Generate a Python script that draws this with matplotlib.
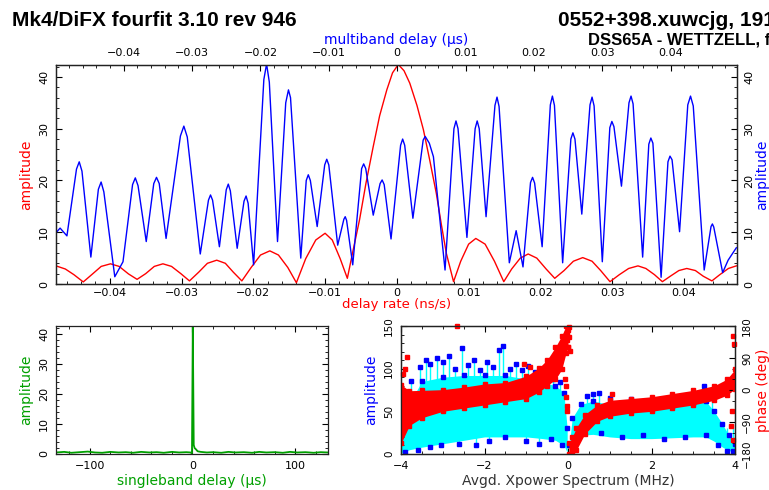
import numpy as np
import matplotlib.pyplot as plt
from matplotlib.ticker import MultipleLocator, FuncFormatter

# delay rate function (red, bottom axis)
rate = [-0.0475, -0.0462, -0.0450, -0.0437, -0.0424, -0.0412, -0.0399, -0.0387, -0.0374,
        -0.0362, -0.0350, -0.0338, -0.0326, -0.0314, -0.0301, -0.0289, -0.0276, -0.0264,
        -0.0251, -0.0239, -0.0228, -0.0216, -0.0203, -0.0190, -0.0177, -0.0165, -0.0152,
        -0.0140, -0.0127, -0.0113, -0.0100, -0.0090, -0.0079, -0.0069, -0.0061, -0.0052,
        -0.0043, -0.0033, -0.0024, -0.0014, -0.0006, 0.0002, 0.0010, 0.0018, 0.0028,
        0.0037, 0.0046, 0.0055, 0.0062, 0.0069, 0.0079, 0.0089, 0.0100, 0.0110, 0.0123,
        0.0136, 0.0149, 0.0160, 0.0172, 0.0183, 0.0195, 0.0208, 0.0220, 0.0233, 0.0246,
        0.0259, 0.0272, 0.0284, 0.0297, 0.0310, 0.0323, 0.0336, 0.0347, 0.0359, 0.0370,
        0.0381, 0.0393, 0.0404, 0.0416, 0.0427, 0.0439, 0.0450, 0.0462, 0.0473]
rate_amp = [3.5, 2.9, 1.8, 0.4, 1.95, 3.4, 3.9, 3.4, 1.95,
            0.9, 2.0, 3.4, 3.9, 3.4, 2.0, 0.6, 2.3, 4.0,
            4.6, 4.0, 2.3, 0.6, 3.2, 5.6, 6.4, 5.6, 3.2,
            0.25, 4.9, 8.5, 9.8, 8.5, 4.9, 1.1, 6.5, 12.4,
            19.5, 26.5, 32.5, 37.5, 40.8, 42.4, 41.2, 38.8, 34.5,
            29.8, 23.8, 17.5, 11.5, 5.9, 0.45, 4.4, 7.7, 8.8, 7.7,
            4.4, 0.45, 2.9, 5.0, 5.8, 5.0, 2.9, 1.1, 2.6, 4.4,
            5.1, 4.4, 2.6, 0.45, 1.8, 3.0, 3.5, 3.0, 1.8, 0.45,
            1.5, 2.6, 3.0, 2.6, 1.5, 0.6, 1.8, 3.0, 3.5]

# multiband delay function (blue, top axis)
mbd = [-0.0499, -0.0493, -0.0483, -0.0469, -0.0465, -0.0461, -0.0448,
       -0.0437, -0.0433, -0.0429, -0.0413, -0.0401, -0.0387, -0.0383, -0.0379,
       -0.0367, -0.0356, -0.0352, -0.0348, -0.0338, -0.0317, -0.0312, -0.0307,
       -0.0288, -0.0276, -0.0273, -0.0270, -0.0260, -0.0250, -0.0247, -0.0244,
       -0.0234, -0.0224, -0.0221, -0.0218, -0.0210, -0.0195, -0.0191, -0.0187,
       -0.0175, -0.0163, -0.0159, -0.0156, -0.0141, -0.0133, -0.0130, -0.0127,
       -0.0117, -0.0106, -0.0103, -0.0100, -0.0087, -0.0078, -0.0076, -0.0074,
       -0.0065, -0.0052, -0.0049, -0.0046, -0.0035, -0.0025, -0.0022, -0.0019,
       -0.0009, 0.0005, 0.0008, 0.0011, 0.0023, 0.0038, 0.0041, 0.0047, 0.0053,
       0.0070, 0.0083, 0.0086, 0.0089, 0.0102, 0.0114, 0.0117, 0.0120, 0.0130,
       0.0143, 0.0146, 0.0149, 0.0164, 0.0174, 0.0184, 0.0195, 0.0198, 0.0201,
       0.0212, 0.0224, 0.0227, 0.0230, 0.0242, 0.0254, 0.0257, 0.0260, 0.0270,
       0.0282, 0.0285, 0.0288, 0.0300, 0.0311, 0.0314, 0.0317, 0.0328, 0.0339,
       0.0342, 0.0345, 0.0359, 0.0368, 0.0371, 0.0374, 0.0386, 0.0396, 0.0399,
       0.0402, 0.0413, 0.0425, 0.0429, 0.0433, 0.0449, 0.0459, 0.0461, 0.0463,
       0.0476, 0.0484, 0.0496]
mbd_amp = [9.9, 10.8, 9.3, 22.2, 23.6, 21.8, 5.2,
           18.3, 19.7, 17.8, 1.4, 4.3, 19.2, 20.5, 19.0,
           8.2, 19.4, 20.6, 19.4, 8.8, 28.6, 30.5, 28.4,
           5.8, 16.2, 17.2, 16.2, 7.2, 18.2, 19.3, 18.0,
           6.9, 16.0, 17.0, 15.6, 3.7, 39.5, 42.5, 39.0,
           8.2, 35.0, 37.5, 36.0, 5.0, 20.0, 21.1, 20.0,
           11.1, 23.0, 24.1, 23.0, 7.5, 12.5, 13.0, 12.3,
           3.7, 22.3, 23.2, 22.3, 13.3, 19.4, 20.1, 19.2,
           8.7, 26.8, 28.0, 26.8, 12.7, 27.8, 28.5, 27.2, 24.6,
           2.7, 30.0, 31.5, 30.0, 9.0, 30.0, 31.5, 30.0, 13.0,
           34.5, 36.1, 34.3, 4.1, 10.3, 3.3, 19.6, 20.6, 19.5,
           7.2, 34.6, 36.3, 34.5, 4.1, 28.0, 29.2, 28.0, 13.5,
           34.6, 36.1, 34.4, 4.3, 30.2, 31.4, 30.4, 18.9, 35.0,
           36.3, 34.8, 5.2, 27.0, 28.2, 27.2, 1.3, 23.6, 24.7,
           24.0, 10.1, 34.6, 36.3, 34.4, 2.7, 11.1, 11.6, 11.0,
           2.2, 4.6, 7.0]

# singleband delay function (green)
sbd = [-133, -125, -118, -110, -102, -95, -88, -80, -72, -65, -58, -50, -42, -35, -28,
       -20, -13, -6, -2, -0.5, 0.3, 1.2, 2.0, 3.5, 5, 8, 14, 20, 28, 35, 42, 50, 58,
       65, 72, 80, 88, 95, 102, 110, 118, 125, 132]
sbd_amp = [0.5, 0.7, 0.4, 0.6, 0.8, 0.5, 0.4, 0.7, 0.5, 0.6, 0.4, 0.7, 0.5, 0.6, 0.4,
           0.7, 0.5, 0.6, 0.5, 0.2, 42.3, 3.0, 2.0, 1.5, 0.9, 0.7, 0.5, 0.6, 0.4, 0.7,
           0.5, 0.6, 0.4, 0.7, 0.5, 0.6, 0.4, 0.7, 0.5, 0.6, 0.4, 0.6, 0.5]

# cross-power spectrum: amplitude band (cyan) and spikes (blue)
amp_f_l = [-4.0, -3.8, -3.5, -3.0, -2.5, -2.0, -1.5, -1.0, -0.6, -0.3, -0.1, -0.02]
amp_lo_l = [1, 5, 8, 12, 16, 20, 20, 20, 18, 16, 10, 2]
amp_hi_l = [35, 60, 85, 90, 92, 92, 92, 88, 84, 80, 72, 30]
amp_f_r = [0.03, 0.1, 0.3, 0.6, 1.0, 1.5, 2.0, 2.5, 3.0, 3.3, 3.5, 3.7, 3.85, 4.0]
amp_lo_r = [1, 15, 22, 23, 20, 18, 18, 19, 20, 20, 15, 8, 4, 2]
amp_hi_r = [10, 42, 58, 62, 58, 54, 54, 56, 60, 62, 50, 35, 22, 12]
spk_f = [-3.75, -3.55, -3.4, -3.3, -3.15, -3.0, -2.85, -2.7, -2.55, -2.4, -2.25, -2.1,
         -1.95, -1.8, -1.65, -1.55, -1.4, -1.25, -1.1, -0.95, -0.8, -0.65, -0.5,
         -0.35, -0.2, 0.45, 0.6, 0.75, 1.0, 1.5, 2.0, 2.6, 3.0, 3.25, 3.45]
spk_a = [85, 102, 110, 105, 112, 108, 115, 100, 124, 104, 110, 98,
         108, 102, 122, 127, 100, 106, 98, 103, 96, 97, 92,
         88, 84, 68, 70, 72, 66, 64, 62, 64, 68, 80, 70]
low_f = [-3.9, -3.6, -3.3, -3.05, -2.6, -2.2, -1.9, -1.5, -1.0, -0.7, -0.4, -0.15,
         0.3, 0.8, 1.3, 1.8, 2.3, 2.8, 3.3, 3.6, 3.8, 3.95]
low_a = [2, 5, 8, 10, 12, 10, 15, 20, 15, 12, 17, 10,
         25, 25, 20, 22, 18, 20, 22, 10, 4, 3]

# cross-power spectrum: phase band (red)
ph_f_l = [-4.0, -3.8, -3.5, -3.0, -2.5, -2.0, -1.5, -1.0, -0.7, -0.5, -0.3, -0.15, -0.05, 0.0]
ph_lo_l = [-150, -100, -78, -60, -51, -42, -33, -24, -6, 12, 30, 58, 103, 120]
ph_hi_l = [15, -2, -1, 1, 8, 17, 21, 39, 62, 85, 121, 153, 180, 180]
ph_f_r = [0.02, 0.1, 0.2, 0.4, 0.7, 1.0, 1.5, 2.0, 2.5, 3.0, 3.5, 3.8, 4.0]
ph_lo_r = [-180, -180, -169, -124, -88, -74, -65, -60, -51, -42, -29, -15, 3]
ph_hi_r = [-150, -133, -106, -69, -42, -29, -24, -19, -10, -1, 12, 30, 58]
ph_out_f = [-3.95, -3.85, -3.9, -2.67, -1.05, -0.9, -0.08, -0.05, -0.04, -0.03, -0.03,
            -0.02, -0.02, -0.01, 0.0, 0.02, 0.03, 0.05, 1.05, 3.9, 3.95, 3.97, 3.95, 3.92]
ph_out_p = [45, 94, 60, 180, 72, 66, 30, 10, -20, -45, 160, -60, 140, 120, 170, 178,
            150, 110, -10, -100, 153, 130, -140, -60]

GREEN = '#00a000'
plt.rcParams['font.size'] = 8
plt.rcParams['axes.linewidth'] = 0.9
plt.rcParams['axes.edgecolor'] = '#222222'


def num_fmt(v, pos):
    if abs(v) < 1e-12:
        return '0'
    s = f'{v:.2f}' if abs(v) < 1 else f'{v:g}'
    return s.replace('-', '\u2212')


def style(a):
    a.tick_params(which='both', direction='in', pad=5)
    a.tick_params(which='major', length=4.5)
    a.tick_params(which='minor', length=2.2)


def rot_y(a, size=8):
    a.tick_params(axis='y', labelrotation=90, labelsize=size)
    for t in a.yaxis.get_major_ticks():
        t.label1.set_va('center')
        t.label2.set_va('center')


fig = plt.figure(figsize=(7.69, 4.90), dpi=100)

# main panel
ax = fig.add_axes([0.0728, 0.4204, 0.8856, 0.4469])
ax.plot(rate, rate_amp, color='red', lw=1.0)
ax.set_xlim(-0.0475, 0.0474)
ax.set_ylim(0, 42.3)
ax.xaxis.set_major_locator(MultipleLocator(0.01))
ax.xaxis.set_minor_locator(MultipleLocator(0.002))
ax.xaxis.set_major_formatter(FuncFormatter(num_fmt))
ax.set_yticks([0, 10, 20, 30, 40])
ax.yaxis.set_minor_locator(MultipleLocator(2))
style(ax)
ax.tick_params(axis='x', pad=3)
ax.tick_params(axis='y', which='both', left=True, right=True, labelright=True)
ax.tick_params(axis='x', which='both', top=False)
rot_y(ax)
ax.set_xlabel('delay rate (ns/s)', color='red', fontsize=9.5, labelpad=0)
ax.set_ylabel('amplitude', color='red', fontsize=10, labelpad=4)

axt = ax.twiny()
axt.plot(mbd, mbd_amp, color='blue', lw=1.0)
axt.set_xlim(-0.0499, 0.0497)
axt.xaxis.set_major_locator(MultipleLocator(0.01))
axt.xaxis.set_minor_locator(MultipleLocator(0.002))
axt.xaxis.set_major_formatter(FuncFormatter(num_fmt))
style(axt)
axt.set_xlabel('multiband delay (\u03bcs)', color='blue', fontsize=10, labelpad=3)
fig.text(0.991, 0.644, 'amplitude', color='blue', fontsize=10, rotation=90,
         ha='center', va='center')

# singleband delay panel
axs = fig.add_axes([0.0728, 0.0735, 0.3537, 0.2612])
axs.plot(sbd, sbd_amp, color=GREEN, lw=1.3)
axs.set_xlim(-133, 132)
axs.set_ylim(0, 42.5)
axs.set_xticks([-100, 0, 100])
axs.xaxis.set_minor_locator(MultipleLocator(20))
axs.xaxis.set_major_formatter(FuncFormatter(num_fmt))
axs.set_yticks([0, 10, 20, 30, 40])
axs.yaxis.set_minor_locator(MultipleLocator(2))
style(axs)
axs.tick_params(which='both', top=True, right=True)
rot_y(axs)
axs.set_xlabel('singleband delay (\u03bcs)', color=GREEN, fontsize=10, labelpad=2)
axs.set_ylabel('amplitude', color=GREEN, fontsize=10, labelpad=4)

# cross-power spectrum panel
axb = fig.add_axes([0.5215, 0.0735, 0.4343, 0.2612])
axb.fill_between(amp_f_l, amp_lo_l, amp_hi_l, color='cyan', lw=0)
axb.fill_between(amp_f_r, amp_lo_r, amp_hi_r, color='cyan', lw=0)
axb.vlines(spk_f, 50, spk_a, color='cyan', lw=1.0)
axb.vlines(low_f, low_a, 30, color='cyan', lw=1.0)
axb.plot(amp_f_l, amp_hi_l, 's', color='blue', ms=2.2)
axb.plot(amp_f_r, amp_hi_r, 's', color='blue', ms=2.2)
axb.plot(spk_f, spk_a, 's', color='blue', ms=2.2)
axb.plot(low_f, low_a, 's', color='blue', ms=2.2)
axb.set_xlim(-4, 4)
axb.set_ylim(0, 150)
axb.set_xticks([-4, -2, 0, 2, 4])
axb.xaxis.set_minor_locator(MultipleLocator(0.5))
axb.xaxis.set_major_formatter(FuncFormatter(num_fmt))
axb.set_yticks([0, 50, 100, 150])
axb.yaxis.set_minor_locator(MultipleLocator(10))
style(axb)
axb.tick_params(which='both', top=True)
rot_y(axb, 7.5)
axb.set_xlabel('Avgd. Xpower Spectrum (MHz)', color='#333333', fontsize=10, labelpad=2)
axb.set_ylabel('amplitude', color='blue', fontsize=10, labelpad=4)

axp = axb.twinx()
axp.fill_between(ph_f_l, ph_lo_l, ph_hi_l, color='red', lw=0)
axp.fill_between(ph_f_r, ph_lo_r, ph_hi_r, color='red', lw=0)
axp.plot(ph_f_l, ph_lo_l, 's', color='red', ms=3)
axp.plot(ph_f_l, ph_hi_l, 's', color='red', ms=3)
axp.plot(ph_f_r, ph_lo_r, 's', color='red', ms=3)
axp.plot(ph_f_r, ph_hi_r, 's', color='red', ms=3)
axp.plot(ph_out_f, ph_out_p, 's', color='red', ms=3, clip_on=False)
axp.set_xlim(-4, 4)
axp.set_ylim(-180, 180)
axp.set_yticks([-180, -90, 0, 90, 180])
axp.yaxis.set_minor_locator(MultipleLocator(30))
axp.yaxis.set_major_formatter(FuncFormatter(num_fmt))
style(axp)
rot_y(axp, 7.5)
axp.set_ylabel('phase (deg)', color='red', fontsize=10, labelpad=3)

# header text (the reference itself is cut at the right edge)
fig.text(12 / 769, 1 - 20 / 490, 'Mk4/DiFX fourfit 3.10 rev 946', fontsize=15,
         fontweight='bold', family='Liberation Sans', va='center')
fig.text(558 / 769, 1 - 20 / 490, '0552+398.xuwcjg, 191', fontsize=15,
         fontweight='bold', family='Liberation Sans', va='center')
fig.text(588 / 769, 1 - 41 / 490, 'DSS65A - WETTZELL, fg', fontsize=12,
         fontweight='bold', family='Liberation Sans', va='center')

fig.savefig('out.png', dpi=100)
